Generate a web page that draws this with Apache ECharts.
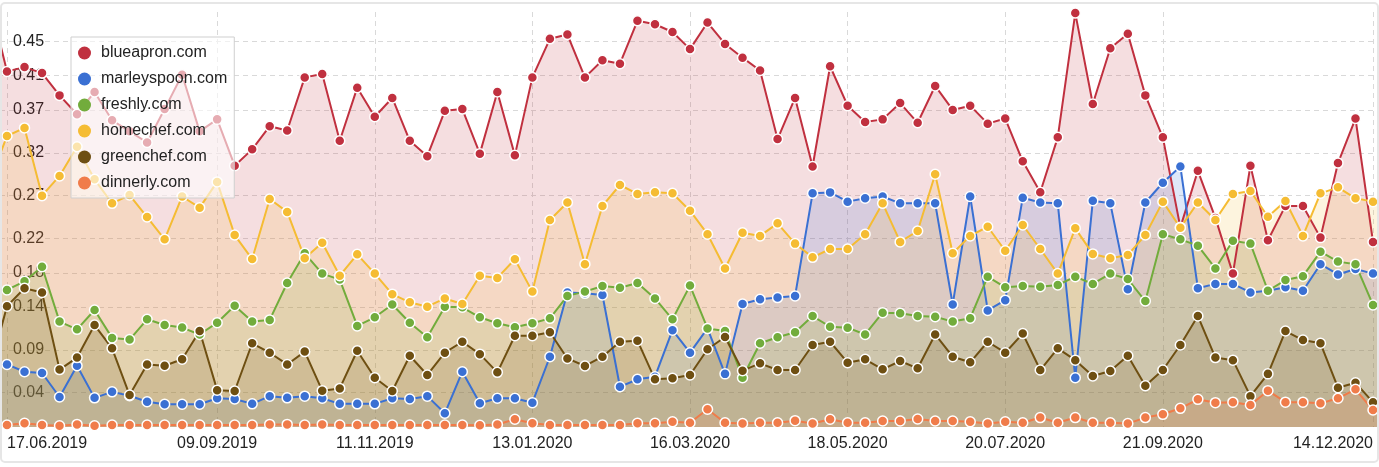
<!DOCTYPE html>
<html><head><meta charset="utf-8">
<script src="https://cdn.jsdelivr.net/npm/echarts@6/dist/echarts.min.js"></script>
<style>
html,body{margin:0;padding:0;background:#fff;}
#chart{position:absolute;left:0;top:0;width:1379px;height:467px;}
#frame{position:absolute;left:0;top:2px;width:1379px;height:461px;box-sizing:border-box;border:2px solid #e6e6e6;border-radius:5px;pointer-events:none;}
</style></head><body>
<div id="chart"></div><div id="frame"></div>
<script>
// weekly points; index 0 = 17.06.2019, index 78 = 14.12.2020 (one clipped point on each side)
const firstWeek = -1;
const tickWeeks = [0, 12, 21, 30, 39, 48, 57, 66, 78];
const tickLabels = ['17.06.2019','09.09.2019','11.11.2019','13.01.2020','16.03.2020','18.05.2020','20.07.2020','21.09.2020','14.12.2020'];
const yTicks = [0.04, 0.09, 0.14, 0.18, 0.22, 0.27, 0.32, 0.37, 0.41, 0.45];

const names = ['blueapron.com','marleyspoon.com','freshly.com','homechef.com','greenchef.com','dinnerly.com'];
const colors = ['#c0303f','#3a70d3','#72ac3c','#f5bc33','#6e4f12','#f07c4a'];

const blueapron = [0.498,
 0.415,0.420,0.413,0.387,0.365,0.391,0.358,0.345,0.332,0.371,
 0.411,0.345,0.359,0.305,0.324,0.351,0.346,0.408,0.412,0.334,
 0.396,0.362,0.384,0.334,0.316,0.369,0.371,0.319,0.391,0.317,
 0.408,0.453,0.458,0.408,0.428,0.424,0.474,0.470,0.461,0.441,
 0.472,0.447,0.431,0.416,0.336,0.384,0.304,0.421,0.375,0.356,
 0.359,0.378,0.355,0.398,0.370,0.375,0.354,0.360,0.310,0.274,
 0.338,0.483,0.377,0.442,0.459,0.387,0.338,0.233,0.299,0.244,
 0.179,0.305,0.218,0.258,0.258,0.221,0.308,0.360,0.216,
 0.222];
const marleyspoon = [0.080,
 0.073,0.0645,0.063,0.035,0.0715,0.034,0.041,0.0365,0.0295,0.0265,
 0.0265,0.0265,0.0335,0.0327,0.027,0.036,0.034,0.036,0.0335,0.027,
 0.027,0.027,0.0335,0.0327,0.036,0.016,0.0645,0.0277,0.0335,0.0335,
 0.0284,0.082,0.157,0.156,0.154,0.047,0.0556,0.0587,0.113,0.0867,
 0.115,0.062,0.1435,0.149,0.151,0.153,0.2727,0.2738,0.263,0.267,
 0.269,0.261,0.261,0.261,0.143,0.269,0.136,0.148,0.2676,0.262,
 0.261,0.0575,0.264,0.261,0.1607,0.262,0.285,0.304,0.162,0.167,
 0.167,0.157,0.159,0.163,0.159,0.190,0.178,0.1844,0.179,
 0.178];
const freshly = [0.153,
 0.160,0.170,0.187,0.123,0.114,0.1365,0.104,0.102,0.1257,0.119,
 0.116,0.108,0.1217,0.1415,0.123,0.125,0.168,0.2027,0.179,0.172,
 0.118,0.128,0.143,0.1217,0.1047,0.1404,0.1397,0.128,0.121,0.1163,
 0.121,0.1268,0.153,0.158,0.1645,0.1626,0.168,0.150,0.1257,0.165,
 0.115,0.112,0.0575,0.0977,0.1047,0.1105,0.1295,0.117,0.1159,0.108,
 0.1334,0.1327,0.1295,0.1287,0.123,0.127,0.1754,0.163,0.1645,0.1637,
 0.1657,0.1754,0.1669,0.179,0.1727,0.147,0.225,0.219,0.2116,0.185,
 0.2174,0.214,0.159,0.1715,0.176,0.2046,0.193,0.190,0.1424,
 0.140];
const homechef = [0.286,
 0.3396,0.349,0.270,0.293,0.327,0.289,0.261,0.2707,0.245,0.219,
 0.269,0.256,0.286,0.224,0.196,0.266,0.251,0.197,0.215,0.1766,
 0.2015,0.179,0.155,0.1455,0.1404,0.150,0.1435,0.1766,0.174,0.1957,
 0.158,0.2415,0.262,0.190,0.258,0.2824,0.272,0.274,0.2727,0.2524,
 0.225,0.185,0.2267,0.223,0.2377,0.214,0.198,0.2077,0.2077,0.225,
 0.261,0.216,0.2287,0.295,0.2027,0.223,0.2337,0.2057,0.2357,0.2077,
 0.179,0.2318,0.202,0.197,0.2007,0.224,0.263,0.2326,0.262,0.2415,
 0.272,0.2754,0.2454,0.2637,0.223,0.2727,0.2797,0.2669,0.263,
 0.258];
const greenchef = [0.065,
 0.141,0.162,0.157,0.067,0.081,0.119,0.0918,0.0373,0.073,0.0715,
 0.079,0.112,0.043,0.042,0.0977,0.0867,0.073,0.088,0.0424,0.045,
 0.089,0.0575,0.042,0.0832,0.0607,0.0867,0.0995,0.085,0.0638,0.1065,
 0.1065,0.1105,0.080,0.0712,0.082,0.0995,0.1007,0.0556,0.0568,0.0607,
 0.0907,0.105,0.0657,0.0743,0.0665,0.0665,0.0957,0.0995,0.075,0.079,
 0.0673,0.077,0.0685,0.108,0.082,0.0755,0.0995,0.0867,0.109,0.0665,
 0.0918,0.078,0.0595,0.0653,0.0832,0.0482,0.0665,0.0957,0.1295,0.081,
 0.078,0.036,0.062,0.112,0.1015,0.0977,0.0459,0.0517,0.0288,
 0.026];
const dinnerly = [0.003,
 0.0023,0.0043,0.0023,0.0015,0.003,0.0015,0.0023,0.0023,0.0023,0.0023,
 0.0023,0.0023,0.0023,0.0023,0.0023,0.003,0.003,0.0023,0.003,0.0023,
 0.0023,0.0023,0.0023,0.0023,0.0023,0.0023,0.0023,0.002,0.003,0.009,
 0.0043,0.0023,0.0023,0.0023,0.0023,0.0023,0.0043,0.0043,0.006,0.005,
 0.0207,0.005,0.004,0.005,0.005,0.0074,0.004,0.009,0.005,0.005,
 0.007,0.007,0.0093,0.007,0.007,0.006,0.004,0.006,0.005,0.011,
 0.005,0.011,0.005,0.005,0.004,0.011,0.0148,0.0218,0.0323,0.0284,
 0.029,0.0257,0.0424,0.029,0.029,0.0276,0.0335,0.044,0.0198,
 0.019];

const allValues = [blueapron, marleyspoon, freshly, homechef, greenchef, dinnerly];
const FONT = "'Liberation Sans', Arial, sans-serif";
const gridLine = {show: true, lineStyle: {color: '#d9d9d9', width: 1, type: [5, 4]}};

const chart = echarts.init(document.getElementById('chart'), null, {renderer: 'canvas'});
chart.setOption({
  animation: false,
  textStyle: {fontFamily: FONT},
  grid: {left: 0, right: 0, top: 12, bottom: 40, containLabel: false, outerBoundsMode: 'none'},
  legend: {
    orient: 'vertical', left: 71, top: 37,
    icon: 'circle', itemWidth: 23, itemHeight: 13, itemGap: 10,
    padding: [8, 7, 7, 7],
    backgroundColor: 'rgba(255,255,255,0.6)', borderColor: '#cfcfcf', borderWidth: 1,
    textStyle: {fontSize: 16, color: '#222', fontFamily: FONT, lineHeight: 16},
    itemStyle: {borderWidth: 0},
    selectedMode: false,
    data: names
  },
  xAxis: {
    type: 'value', min: -0.3997, max: 78.3426,
    axisLine: {show: false},
    axisTick: {show: false, customValues: tickWeeks},
    axisLabel: {
      customValues: tickWeeks,
      formatter: v => tickLabels[tickWeeks.indexOf(Math.round(v))],
      color: '#222', fontSize: 16, fontFamily: FONT, margin: 9,
      alignMinLabel: 'left', alignMaxLabel: 'right'
    },
    splitLine: gridLine
  },
  yAxis: {
    type: 'value', min: 0, max: 0.4843,
    axisLine: {show: false},
    axisTick: {show: false, customValues: yTicks},
    axisLabel: {
      inside: true, customValues: yTicks, margin: 13,
      formatter: v => v.toFixed(2),
      color: '#222', fontSize: 16, fontFamily: FONT
    },
    splitLine: gridLine
  },
  series: names.map((n, k) => ({
    name: n, type: 'line',
    data: allValues[k].map((v, i) => [firstWeek + i, v]),
    symbol: 'circle', symbolSize: 10, showSymbol: true,
    lineStyle: {width: 2, color: colors[k]},
    itemStyle: {color: colors[k], borderColor: '#fff', borderWidth: 1.5},
    areaStyle: {color: colors[k], opacity: 0.16},
    emphasis: {disabled: true},
    clip: true
  }))
});
</script>
</body></html>
